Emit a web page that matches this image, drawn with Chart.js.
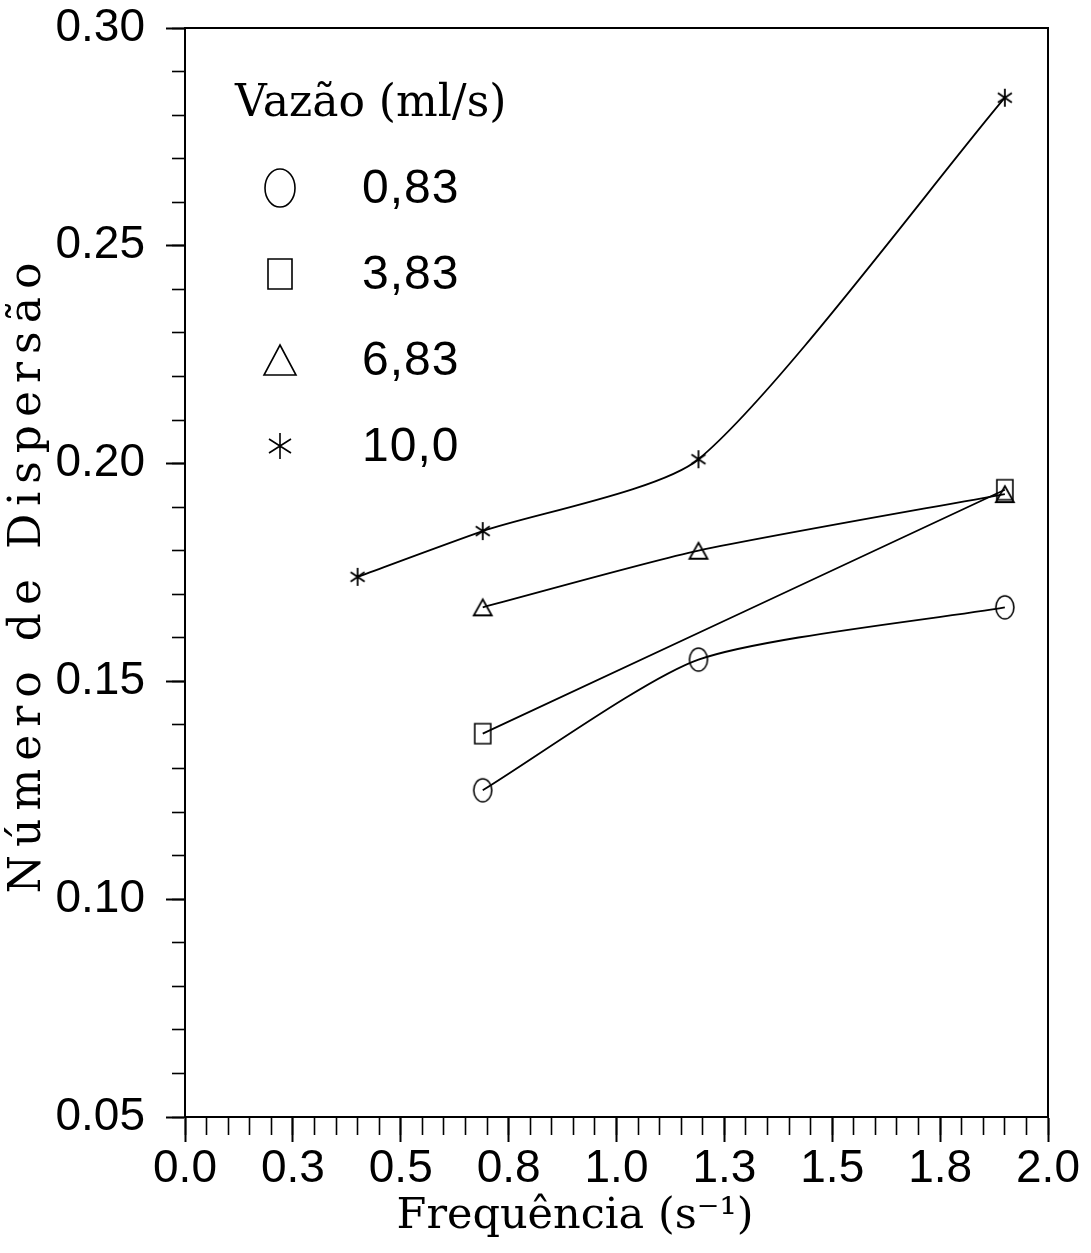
<!DOCTYPE html>
<html>
<head>
<meta charset="utf-8">
<script src="https://cdn.jsdelivr.net/npm/chart.js@4.4.0/dist/chart.umd.min.js"></script>
<style>
  html, body { margin: 0; background: #fff; }
  #wrap { position: relative; width: 1091px; height: 1253px; }
</style>
</head>
<body>
<div id="wrap"><canvas id="chart"></canvas></div>
<script>
// values
const flowLabels = ["0,83", "3,83", "6,83", "10,0"];
const freqCircle = [0.69, 1.19, 1.90];
const dispCircle = [0.125, 0.155, 0.167];
const freqSquare = [0.69, 1.90];
const dispSquare = [0.138, 0.194];
const freqTriangle = [0.69, 1.19, 1.90];
const dispTriangle = [0.167, 0.180, 0.193];
const freqStar = [0.40, 0.69, 1.19, 1.90];
const dispStar = [0.174, 0.1845, 0.201, 0.284];
const xTickLabels = ["0.0", "0.3", "0.5", "0.8", "1.0", "1.3", "1.5", "1.8", "2.0"];
const xTitle = "Frequência (s⁻¹)";
const yTitle = "Número de Dispersão";
const legendTitle = "Vazão (ml/s)";

const SERIF = '"DejaVu Serif", "Liberation Serif", serif';
const SANS = '"Liberation Sans", Arimo, sans-serif';

function makeMarker(kind, w, h, lw) {
  const c = document.createElement("canvas");
  c.width = Math.ceil(w + lw * 2 + 2);
  c.height = Math.ceil(h + lw * 2 + 2);
  const g = c.getContext("2d");
  const cx = c.width / 2, cy = c.height / 2;
  g.strokeStyle = "#000";
  g.lineWidth = lw;
  g.beginPath();
  if (kind === "circle") {
    g.ellipse(cx, cy, w / 2, h / 2, 0, 0, Math.PI * 2);
  } else if (kind === "square") {
    g.rect(cx - w / 2, cy - h / 2, w, h);
  } else if (kind === "triangle") {
    g.moveTo(cx, cy - h / 2);
    g.lineTo(cx + w / 2, cy + h / 2);
    g.lineTo(cx - w / 2, cy + h / 2);
    g.closePath();
  } else {
    // six-armed asterisk
    g.moveTo(cx, cy - h / 2); g.lineTo(cx, cy + h / 2);
    const dx = w / 2, dy = h * 0.27;
    g.moveTo(cx - dx, cy - dy); g.lineTo(cx + dx, cy + dy);
    g.moveTo(cx - dx, cy + dy); g.lineTo(cx + dx, cy - dy);
  }
  g.stroke();
  return c;
}

const markers = [
  makeMarker("circle", 18, 23, 1.6),
  makeMarker("square", 16, 20, 1.6),
  makeMarker("triangle", 18, 16, 1.8),
  makeMarker("star", 14, 18, 1.8)
];
const legendMarkers = [
  makeMarker("circle", 30, 38, 1.6),
  makeMarker("square", 24, 30, 1.6),
  makeMarker("triangle", 32, 30, 1.6),
  makeMarker("star", 22, 26, 1.6)
];

function toPoints(xs, ys) {
  return xs.map((x, i) => ({ x, y: ys[i] }));
}

function series(label, xs, ys, marker) {
  return {
    label,
    data: toPoints(xs, ys),
    borderColor: "#000",
    borderWidth: 1.8,
    tension: 0.22,
    fill: false,
    pointStyle: marker,
    pointRadius: 10
  };
}

const frame = {
  id: "frame",
  beforeDatasetsDraw(chart) {
    const { ctx, chartArea: a } = chart;
    ctx.save();
    ctx.strokeStyle = "#000";
    ctx.lineWidth = 2;
    ctx.beginPath();
    ctx.moveTo(a.left, a.top);
    ctx.lineTo(a.right, a.top);
    ctx.lineTo(a.right, a.bottom);
    ctx.stroke();
    ctx.restore();
  }
};

const titlesAndLegend = {
  id: "titlesAndLegend",
  afterDraw(chart) {
    const { ctx, chartArea: a } = chart;
    ctx.save();
    ctx.fillStyle = "#000";

    // x title
    ctx.font = `43px ${SERIF}`;
    ctx.letterSpacing = "0px";
    ctx.textAlign = "center";
    ctx.textBaseline = "alphabetic";
    ctx.fillText(xTitle, a.left + 390, a.bottom + 111);

    // y title, rotated
    ctx.save();
    ctx.translate(a.left - 145, 574);
    ctx.rotate(-Math.PI / 2);
    ctx.font = `44px ${SERIF}`;
    ctx.letterSpacing = "8px";
    ctx.fillText(yTitle, 0, 0);
    ctx.restore();

    // legend inside the plot
    ctx.font = `44px ${SERIF}`;
    ctx.letterSpacing = "0px";
    ctx.textAlign = "left";
    ctx.fillText(legendTitle, a.left + 50, a.top + 88);

    ctx.font = `48px ${SANS}`;
    ctx.letterSpacing = "1px";
    ctx.textBaseline = "middle";
    flowLabels.forEach((lab, i) => {
      const cy = a.top + 160 + i * 86;
      const m = legendMarkers[i];
      ctx.drawImage(m, a.left + 95 - m.width / 2, cy - m.height / 2);
      ctx.fillText(lab, a.left + 177, cy + 2);
    });
    ctx.restore();
  }
};

const axisFont = { family: SANS, size: 46, lineHeight: 1.0 };

new Chart(document.getElementById("chart"), {
  type: "line",
  data: {
    datasets: [
      series(flowLabels[0], freqCircle, dispCircle, markers[0]),
      series(flowLabels[1], freqSquare, dispSquare, markers[1]),
      series(flowLabels[2], freqTriangle, dispTriangle, markers[2]),
      series(flowLabels[3], freqStar, dispStar, markers[3])
    ]
  },
  options: {
    responsive: true,
    maintainAspectRatio: false,
    animation: false,
    layout: { padding: { top: 28, right: 43, left: 0, bottom: 0 } },
    plugins: { legend: { display: false }, tooltip: { enabled: false } },
    scales: {
      x: {
        type: "linear",
        position: "bottom",
        min: 0, max: 2,
        afterFit: s => { s.height = 136; },
        ticks: {
          stepSize: 0.25,
          padding: 4,
          color: "#000",
          font: axisFont,
          maxRotation: 0,
          callback: v => xTickLabels[Math.round(v / 0.25)]
        },
        grid: { drawOnChartArea: false, tickLength: 25, tickWidth: 2, tickColor: "#000" },
        border: { color: "#000", width: 2 }
      },
      xMinor: {
        type: "linear",
        position: { y: 0.05 },
        min: 0, max: 2,
        ticks: { stepSize: 0.05, display: false },
        grid: { drawOnChartArea: false, tickLength: 17, tickWidth: 1.6, tickColor: "#000" },
        border: { color: "#000", width: 2 }
      },
      y: {
        type: "linear",
        position: "left",
        min: 0.05, max: 0.30,
        afterFit: s => {
          s.width = 185;
          s.paddingTop = 0;
          s.paddingBottom = 0;
        },
        ticks: {
          stepSize: 0.05,
          padding: 21,
          color: "#000",
          font: axisFont,
          callback: v => v.toFixed(2)
        },
        grid: { drawOnChartArea: false, tickLength: 19, tickWidth: 2, tickColor: "#000" },
        border: { color: "#000", width: 2 }
      },
      yMinor: {
        type: "linear",
        position: { x: 0 },
        min: 0.05, max: 0.30,
        ticks: { stepSize: 0.01, display: false },
        grid: { drawOnChartArea: false, tickLength: 12, tickWidth: 1.6, tickColor: "#000" },
        border: { color: "#000", width: 2 }
      }
    }
  },
  plugins: [frame, titlesAndLegend]
});
</script>
</body>
</html>
